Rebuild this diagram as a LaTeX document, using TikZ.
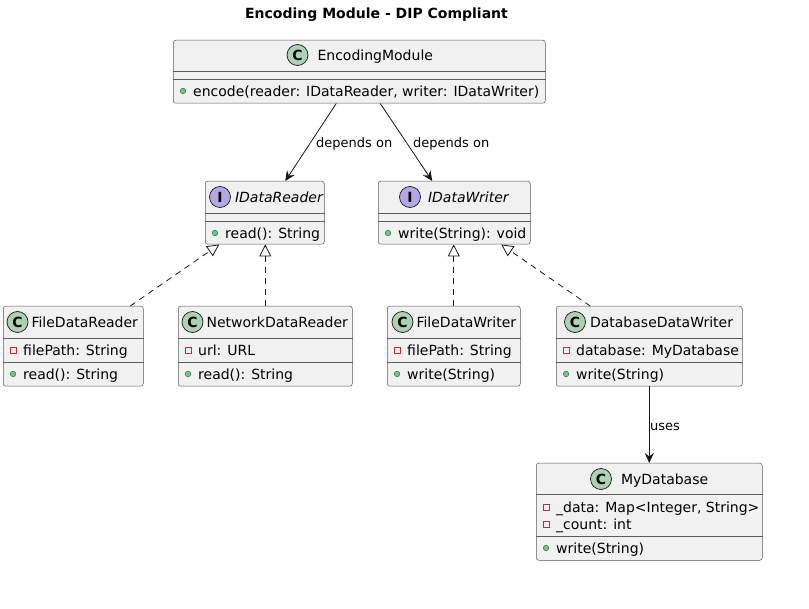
\documentclass[tikz,border=0pt]{standalone}
\usepackage{fontspec}
\setmainfont{DejaVu Sans}
\usetikzlibrary{arrows.meta, positioning}
\definecolor{umlline}{HTML}{181818}
\definecolor{umlsep}{HTML}{5A5A5A}
\definecolor{umlfill}{HTML}{F1F1F1}
\definecolor{spotclass}{HTML}{ADD1B2}
\definecolor{spotiface}{HTML}{B4A7E5}
\definecolor{pubfill}{HTML}{84BE84}
\definecolor{publine}{HTML}{038048}
\definecolor{privline}{HTML}{C82930}

\begin{document}
\begin{tikzpicture}[
    x=1pt, y=-1pt,
    cbox/.style={draw=umlsep, fill=umlfill, line width=0.5pt, rounded corners=2.5pt, anchor=north west, inner sep=0pt},
    sep/.style={draw=umlsep, line width=0.5pt},
    spot/.style={circle, draw=umlline, line width=0.7pt, minimum size=21pt, inner sep=0pt, font=\fontsize{14}{14}\selectfont\bfseries},
    cspot/.style={spot, fill=spotclass},
    ispot/.style={spot, fill=spotiface},
    cname/.style={font=\fontsize{14}{16}\selectfont, inner sep=0pt, text height=10.2pt, text depth=0pt, anchor=west},
    iname/.style={cname, font=\fontsize{14}{16}\selectfont\itshape},
    member/.style={cname},
    pub/.style={circle, draw=publine, fill=pubfill, line width=0.5pt, minimum size=5.5pt, inner sep=0pt},
    priv/.style={rectangle, draw=privline, line width=0.8pt, minimum size=6pt, inner sep=0pt},
    lbl/.style={font=\fontsize{13}{15}\selectfont, inner sep=0pt, text height=9.5pt, text depth=0pt, anchor=west},
    title/.style={font=\fontsize{14}{16}\selectfont\bfseries, inner sep=0pt, text height=10.2pt, text depth=0pt},
    dep/.style={-{Stealth[length=10pt, width=9pt, inset=3.5pt]}, draw=umlline, line width=0.8pt},
    real/.style={-{Triangle[open, length=12pt, width=12pt]}, draw=umlline, line width=0.8pt, dash pattern=on 6pt off 5pt}]

    \useasboundingbox (0,0) rectangle (809,609);

    \node[title] (title) at (376.5,13) {Encoding Module - DIP Compliant};

    % ================= EncodingModule =================
    \node[cbox, minimum width=372pt, minimum height=63pt] (enc) at (173,40) {};
    \draw[sep] (enc.west |- 0,71) -- (enc.east |- 0,71);
    \draw[sep] (enc.west |- 0,79) -- (enc.east |- 0,79);
    \node[cspot] (encspot) at (297.5,55) {C};
    \node[cname, right=9pt of encspot] (encname) {EncodingModule};
    \node[pub] (encm1) at (183,91) {};
    \node[member] (encm1t) at (193,91) {encode(reader: IDataReader, writer: IDataWriter)};

    % ================= interfaces =================
    \node[cbox, minimum width=119pt, minimum height=63pt] (ireader) at (205,181) {};
    \draw[sep] (ireader.west |- 0,213) -- (ireader.east |- 0,213);
    \draw[sep] (ireader.west |- 0,221) -- (ireader.east |- 0,221);
    \node[ispot] (ireaderspot) at (220,197) {I};
    \node[iname, right=4pt of ireaderspot] (ireadername) {IDataReader};
    \node[pub] (ireaderm1) at (215,233) {};
    \node[member] (ireaderm1t) at (225,233) {read(): String};

    \node[cbox, minimum width=152pt, minimum height=63pt] (iwriter) at (378,181) {};
    \draw[sep] (iwriter.west |- 0,213) -- (iwriter.east |- 0,213);
    \draw[sep] (iwriter.west |- 0,221) -- (iwriter.east |- 0,221);
    \node[ispot] (iwriterspot) at (410,197) {I};
    \node[iname, right=7pt of iwriterspot] (iwritername) {IDataWriter};
    \node[pub] (iwriterm1) at (388,233) {};
    \node[member] (iwriterm1t) at (398,233) {write(String): void};

    % ================= implementations =================
    \node[cbox, minimum width=140pt, minimum height=80pt] (freader) at (3,306) {};
    \draw[sep] (freader.west |- 0,338) -- (freader.east |- 0,338);
    \draw[sep] (freader.west |- 0,362) -- (freader.east |- 0,362);
    \node[cspot] (freaderspot) at (17.5,322) {C};
    \node[cname, right=3pt of freaderspot] (freadername) {FileDataReader};
    \node[priv] (freadera1) at (13,350) {};
    \node[member] (freadera1t) at (23,350) {filePath: String};
    \node[pub] (freaderm1) at (13,374) {};
    \node[member] (freaderm1t) at (23,374) {read(): String};

    \node[cbox, minimum width=174pt, minimum height=80pt] (nreader) at (178,306) {};
    \draw[sep] (nreader.west |- 0,338) -- (nreader.east |- 0,338);
    \draw[sep] (nreader.west |- 0,362) -- (nreader.east |- 0,362);
    \node[cspot] (nreaderspot) at (192.5,322) {C};
    \node[cname, right=3pt of nreaderspot] (nreadername) {NetworkDataReader};
    \node[priv] (nreadera1) at (188,350) {};
    \node[member] (nreadera1t) at (198,350) {url: URL};
    \node[pub] (nreaderm1) at (188,374) {};
    \node[member] (nreaderm1t) at (198,374) {read(): String};

    \node[cbox, minimum width=133pt, minimum height=80pt] (fwriter) at (387,306) {};
    \draw[sep] (fwriter.west |- 0,338) -- (fwriter.east |- 0,338);
    \draw[sep] (fwriter.west |- 0,362) -- (fwriter.east |- 0,362);
    \node[cspot] (fwriterspot) at (402.5,322) {C};
    \node[cname, right=3pt of fwriterspot] (fwritername) {FileDataWriter};
    \node[priv] (fwritera1) at (397,350) {};
    \node[member] (fwritera1t) at (407,350) {filePath: String};
    \node[pub] (fwriterm1) at (397,374) {};
    \node[member] (fwriterm1t) at (407,374) {write(String)};

    \node[cbox, minimum width=186pt, minimum height=80pt] (dbwriter) at (556,306) {};
    \draw[sep] (dbwriter.west |- 0,338) -- (dbwriter.east |- 0,338);
    \draw[sep] (dbwriter.west |- 0,362) -- (dbwriter.east |- 0,362);
    \node[cspot] (dbwriterspot) at (575,322) {C};
    \node[cname, right=4pt of dbwriterspot] (dbwritername) {DatabaseDataWriter};
    \node[priv] (dbwritera1) at (566,350) {};
    \node[member] (dbwritera1t) at (576,350) {database: MyDatabase};
    \node[pub] (dbwriterm1) at (566,374) {};
    \node[member] (dbwriterm1t) at (576,374) {write(String)};

    % ================= MyDatabase =================
    \node[cbox, minimum width=226pt, minimum height=97pt] (mydb) at (536,463) {};
    \draw[sep] (mydb.west |- 0,494) -- (mydb.east |- 0,494);
    \draw[sep] (mydb.west |- 0,536) -- (mydb.east |- 0,536);
    \node[cspot] (mydbspot) at (601,479) {C};
    \node[cname, right=9pt of mydbspot] (mydbname) {MyDatabase};
    \node[priv] (mydba1) at (546,507) {};
    \node[member] (mydba1t) at (556,507) {\_data: Map<Integer, String>};
    \node[priv] (mydba2) at (546,524) {};
    \node[member] (mydba2t) at (556,524) {\_count: int};
    \node[pub] (mydbm1) at (546,548) {};
    \node[member] (mydbm1t) at (556,548) {write(String)};

    % ================= relations =================
    \draw[dep] ([xshift=-23pt]enc.south) -- ([xshift=20.5pt]ireader.north);
    \draw[dep] ([xshift=21pt]enc.south) -- ([xshift=-22pt]iwriter.north);
    \node[lbl] (dep1) at (316,143) {depends on};
    \node[lbl] (dep2) at (413,143) {depends on};

    \draw[real] ([xshift=57pt]freader.north) -- ([xshift=-45.5pt]ireader.south);
    \draw[real] (nreader.north) -- (nreader.north |- ireader.south);
    \draw[real] (fwriter.north) -- (fwriter.north |- iwriter.south);
    \draw[real] ([xshift=-59pt]dbwriter.north) -- ([xshift=47pt]iwriter.south);

    \draw[dep] (dbwriter.south) -- (mydb.north);
    \node[lbl] (uses) at (650,426) {uses};
\end{tikzpicture}
\end{document}
